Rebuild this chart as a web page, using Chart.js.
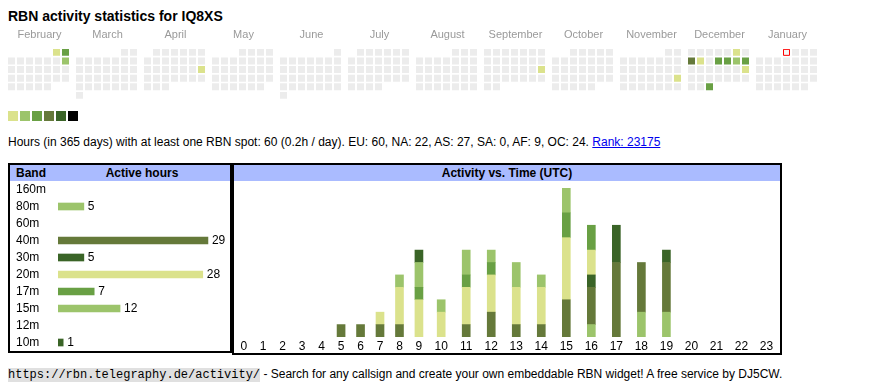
<!DOCTYPE html>
<html>
<head>
<meta charset="utf-8">
<script src="https://cdn.jsdelivr.net/npm/chart.js@4.4.1/dist/chart.umd.min.js"></script>
<style>
  body { margin:0; width:870px; height:390px; background:#fff; position:relative; overflow:hidden;
         font-family:"Liberation Sans", Arial, sans-serif; color:#000; }
  .abs { position:absolute; }
  #title { left:8px; top:8px; font-size:14px; line-height:17px; font-weight:bold; white-space:nowrap; }
  #summary { left:8px; top:135px; font-size:12px; line-height:14px; white-space:nowrap; }
  #summary a { color:#0000ee; text-decoration:underline; }
  .box { border:2px solid #000; box-sizing:border-box; }
  .head { background:#aabbff; font-size:12px; font-weight:bold; line-height:16px; height:16px; }
  #footer { left:8px; top:366px; font-size:12px; line-height:16px; white-space:nowrap; }
  #footer code { font-family:"Liberation Mono", monospace; font-size:12px; background:#e0e0e0; }
  canvas { position:absolute; }
</style>
</head>
<body>
<div class="abs" id="title">RBN activity statistics for IQ8XS</div>
<canvas id="heat" width="870" height="104" style="left:0;top:0"></canvas>
<div class="abs" id="legend"></div>
<div class="abs" id="summary">Hours (in 365 days) with at least one RBN spot: 60 (0.2h / day). EU: 60, NA: 22, AS: 27, SA: 0, AF: 9, OC: 24. <a href="#">Rank: 23175</a></div>

<div class="abs box" style="left:8px;top:163px;width:224px;height:190px">
  <div class="head" style="position:relative">
    <span style="position:absolute;left:6px">Band</span>
    <span style="position:absolute;left:48px;width:168px;text-align:center">Active hours</span>
  </div>
</div>
<canvas id="bands" width="214" height="171" style="left:16px;top:181px"></canvas>

<div class="abs box" style="left:232px;top:163px;width:550px;height:192px">
  <div class="head" style="text-align:center">Activity vs. Time (UTC)</div>
</div>
<canvas id="hours" width="545" height="172" style="left:234px;top:181px"></canvas>

<div class="abs" id="footer"><code>https://rbn.telegraphy.de/activity/</code> - Search for any callsign and create your own embeddable RBN widget! A free service by DJ5CW.</div>

<script>
Chart.defaults.font.family = '"Liberation Sans", Arial, sans-serif';
Chart.defaults.color = '#000';

// palette (activity levels 1..6)
const levelColors = ['#ececec', '#dbe28c', '#9cc46b', '#69a044', '#65793a', '#3a6427', '#000000'];

// calendar
const monthLabels = ['February', 'March', 'April', 'May', 'June', 'July', 'August', 'September', 'October', 'November', 'December', 'January'];
const firstMonth = [2025, 1]; // Feb 2025
const activeDays = ['2025-02-01', '2025-02-02', '2025-02-09', '2025-04-20', '2025-09-21', '2025-11-23',
  '2025-12-06', '2025-12-08', '2025-12-09', '2025-12-11', '2025-12-12', '2025-12-13', '2025-12-14',
  '2025-12-21', '2025-12-31'];
const activeLevels = [1, 3, 2, 1, 1, 1, 1, 4, 1, 3, 3, 2, 3, 1, 3];
const today = '2026-01-01';

// bands
const bandNames = ['160m', '80m', '60m', '40m', '30m', '20m', '17m', '15m', '12m', '10m'];
const bandHours = [0, 5, 0, 29, 5, 28, 7, 12, 0, 1];
const bandColors = ['transparent', '#9cc46b', 'transparent', '#65793a', '#3a6427', '#dbe28c', '#69a044', '#9cc46b', 'transparent', '#3a6427'];

// activity vs time, per band (bottom to top of the stack)
const hourLabels = ['0','1','2','3','4','5','6','7','8','9','10','11','12','13','14','15','16','17','18','19','20','21','22','23'];
const h80m = [0,0,0,0,0,0,0,0,0,0,0,0,0,0,0,0,1,0,2,2,0,0,0,0];
const h40m = [0,0,0,0,0,1,1,1,1,0,0,1,2,1,1,3,3,6,4,4,0,0,0,0];
const h30m = [0,0,0,0,0,0,0,0,0,0,0,0,0,0,0,0,1,3,0,1,0,0,0,0];
const h20m = [0,0,0,0,0,0,0,1,3,3,2,3,3,3,3,5,2,0,0,0,0,0,0,0];
const h17m = [0,0,0,0,0,0,0,0,0,1,0,1,1,0,0,2,2,0,0,0,0,0,0,0];
const h15m = [0,0,0,0,0,0,0,0,1,2,1,2,1,2,1,2,0,0,0,0,0,0,0,0];
const h10m = [0,0,0,0,0,0,0,0,0,1,0,0,0,0,0,0,0,0,0,0,0,0,0,0];

// ---------- heat map ----------
const MONTH_W = 68, CELL = 9;
const lvlByDay = {};
activeDays.forEach((d, i) => { lvlByDay[d] = activeLevels[i]; });

const cells = [], cellColors = [], todayPt = [];
for (let m = 0; m < monthLabels.length; m++) {
  const y = firstMonth[0], mo = firstMonth[1] + m;
  const first = new Date(Date.UTC(y, mo, 1));
  const startCol = (first.getUTCDay() + 6) % 7;
  const nDays = new Date(Date.UTC(y, mo + 1, 0)).getUTCDate();
  for (let d = 1; d <= nDays; d++) {
    const dt = new Date(Date.UTC(y, mo, d));
    const key = dt.toISOString().slice(0, 10);
    const col = (startCol + d - 1) % 7;
    const row = Math.floor((startCol + d - 1) / 7);
    const pt = { x: m * MONTH_W + col * CELL + 3.5, y: row * CELL + 3.5 };
    cells.push(pt);
    cellColors.push(levelColors[lvlByDay[key] || 0]);
    if (key === today) todayPt.push(pt);
  }
}

new Chart(document.getElementById('heat'), {
  type: 'scatter',
  data: {
    datasets: [
      { data: todayPt, pointStyle: 'rect', pointRadius: 4.2426,
        backgroundColor: '#f6f6f6', borderColor: '#ff0000',
        pointBackgroundColor: '#f6f6f6', pointBorderColor: '#ff0000', pointBorderWidth: 1, order: 0 },
      { data: cells, pointStyle: 'rect', pointRadius: 4.9497,
        backgroundColor: cellColors, borderColor: cellColors,
        pointBackgroundColor: cellColors, pointBorderWidth: 0, order: 1 }
    ]
  },
  options: {
    responsive: false, animation: false, events: [],
    layout: { padding: { left: 8, right: 51, top: 0, bottom: 3 } },
    plugins: { legend: { display: false }, tooltip: { enabled: false }, colors: { enabled: false } },
    scales: {
      x: {
        type: 'linear', position: 'top', min: 0, max: 12 * MONTH_W - 5,
        grid: { display: false, drawTicks: false }, border: { display: false },
        afterFit: s => { s.height = 49; s.paddingLeft = 0; s.paddingRight = 0; },
        afterBuildTicks: s => { s.ticks = monthLabels.map((_, m) => ({ value: m * MONTH_W + 31.5 })); },
        ticks: { autoSkip: false, maxRotation: 0, padding: 7.4, color: '#9a9a9a', font: { size: 11 },
                 callback: (v, i) => monthLabels[i] }
      },
      y: { display: false, min: 0, max: 6 * CELL - 2, reverse: true }
    }
  }
});

// legend swatches
const lg = document.getElementById('legend');
levelColors.slice(1).forEach((c, i) => {
  const s = document.createElement('div');
  s.style.cssText = 'position:absolute;width:10px;height:10px;top:111px;left:' + (8 + i * 12) + 'px;background:' + c;
  lg.appendChild(s);
});

// ---------- band chart ----------
const valueLabels = {
  id: 'valueLabels',
  afterDatasetsDraw(chart) {
    const ctx = chart.ctx;
    const meta = chart.getDatasetMeta(0);
    ctx.save();
    ctx.font = '12px "Liberation Sans", Arial, sans-serif';
    ctx.fillStyle = '#000';
    ctx.textBaseline = 'middle';
    meta.data.forEach((bar, i) => {
      if (bandHours[i] > 0) ctx.fillText(String(bandHours[i]), bar.x + 4, bar.y + 0.5);
    });
    ctx.restore();
  }
};

new Chart(document.getElementById('bands'), {
  type: 'bar',
  data: { labels: bandNames, datasets: [{ data: bandHours, backgroundColor: bandColors, barThickness: 7, borderWidth: 0 }] },
  options: {
    indexAxis: 'y', responsive: false, animation: false, events: [],
    layout: { padding: { top: 0, bottom: 1, left: 0, right: 0 } },
    plugins: { legend: { display: false }, tooltip: { enabled: false } },
    scales: {
      x: { display: false, min: 0, max: 33.27 },
      y: {
        grid: { display: false, drawTicks: false }, border: { display: false },
        afterFit: s => { s.width = 42; s.paddingTop = 0; s.paddingBottom = 0; },
        ticks: { autoSkip: false, crossAlign: 'far', font: { size: 12 }, color: '#000' }
      }
    }
  },
  plugins: [valueLabels]
});

// ---------- activity vs time ----------
const colWidth = l => (l.length > 1 ? 25 : 19.45);
const hourCenters = [];
let acc = 0;
hourLabels.forEach(l => { hourCenters.push(acc + colWidth(l) / 2); acc += colWidth(l); });

const series = [
  ['80m', h80m, '#9cc46b'], ['40m', h40m, '#65793a'], ['30m', h30m, '#3a6427'],
  ['20m', h20m, '#dbe28c'], ['17m', h17m, '#69a044'], ['15m', h15m, '#9cc46b'], ['10m', h10m, '#3a6427']
];

new Chart(document.getElementById('hours'), {
  type: 'bar',
  data: {
    datasets: series.map(([name, vals, col]) => ({
      label: name,
      data: hourCenters.map((x, i) => ({ x: x, y: vals[i] || null })),
      backgroundColor: col, barThickness: 8, borderWidth: 0
    }))
  },
  options: {
    responsive: false, animation: false, events: [],
    layout: { padding: { top: 7, bottom: 0, left: 0, right: 0 } },
    plugins: { legend: { display: false }, tooltip: { enabled: false } },
    scales: {
      x: {
        type: 'linear', stacked: true, min: 0, max: acc, offset: false,
        grid: { display: false, drawTicks: false }, border: { display: false },
        afterFit: s => { s.height = 16; s.paddingLeft = 0; s.paddingRight = 0; },
        afterBuildTicks: s => { s.ticks = hourCenters.map(v => ({ value: v })); },
        ticks: { autoSkip: false, maxRotation: 0, padding: 2, font: { size: 12 }, color: '#000',
                 callback: (v, i) => hourLabels[i] }
      },
      y: { display: false, stacked: true, min: 0, max: 12 }
    }
  }
});
</script>
</body>
</html>
